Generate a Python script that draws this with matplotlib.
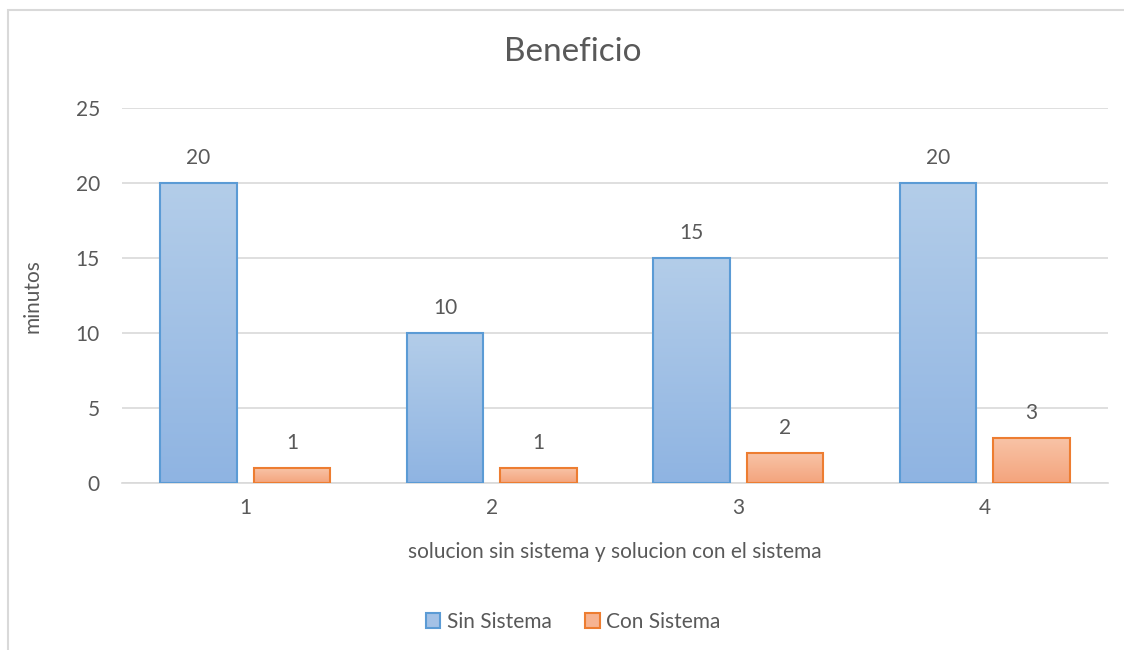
import numpy as np
import matplotlib
matplotlib.use("Agg")
import matplotlib.pyplot as plt
from matplotlib.colors import LinearSegmentedColormap
from matplotlib.patches import Rectangle, Patch

# data
categories = ["1", "2", "3", "4"]
sin_sistema = [20, 10, 15, 20]
con_sistema = [1, 1, 2, 3]
series_names = ["Sin Sistema", "Con Sistema"]

plt.rcParams['font.family'] = ['Lato', 'DejaVu Sans']
gray = '#595959'

fig = plt.figure(figsize=(11.24, 6.5), dpi=100)
ax = fig.add_axes([122 / 1124, 1 - 483 / 650, 986 / 1124, 375 / 650])

x = np.arange(1, len(categories) + 1)
w = 0.31
off = 0.19

styles = [
    (sin_sistema, -off, '#5b9bd5', ['#8fb4e2', '#b3cde9']),
    (con_sistema, off, '#ed7d31', ['#f4a47d', '#f8c3a6']),
]

for vals, dx, edge, grad in styles:
    cmap = LinearSegmentedColormap.from_list('g', grad)
    bars = ax.bar(x + dx, vals, w, color='none', edgecolor=edge, linewidth=1.5, zorder=3)
    for b, v in zip(bars, vals):
        img = ax.imshow(np.linspace(0, 1, 100).reshape(-1, 1), cmap=cmap, aspect='auto',
                        origin='lower', extent=[b.get_x(), b.get_x() + w, 0, v], zorder=2)
        img.set_clip_path(b)
        ax.text(b.get_x() + w / 2, v + 1.0, str(v), ha='center', va='bottom',
                fontsize=15, color=gray)

ax.set_xlim(0.5, 4.5)
ax.set_ylim(0, 25)
ax.set_yticks([0, 5, 10, 15, 20, 25])
ax.set_xticks(x)
ax.set_xticklabels(categories)
ax.tick_params(axis='both', length=0, labelsize=15, labelcolor=gray)
ax.tick_params(axis='y', pad=16)
ax.tick_params(axis='x', pad=11)
ax.grid(axis='y', color='#d9d9d9', linewidth=1.2, zorder=0)
ax.set_axisbelow(True)
for s in ['top', 'right', 'left']:
    ax.spines[s].set_visible(False)
ax.spines['bottom'].set_color('#d9d9d9')
ax.spines['bottom'].set_linewidth(1.2)

fig.text(573 / 1124, 1 - 52 / 650, 'Beneficio', ha='center', va='center', fontsize=24, color=gray)
fig.text(33 / 1124, 1 - 296 / 650, 'minutos', ha='center', va='center', rotation=90,
         fontsize=15, color=gray)
fig.text(615 / 1124, 1 - 552 / 650, 'solucion sin sistema y solucion con el sistema',
         ha='center', va='center', fontsize=15, color=gray)

handles = [Patch(facecolor='#a3c1e6', edgecolor='#5b9bd5', linewidth=1.5),
           Patch(facecolor='#f6b391', edgecolor='#ed7d31', linewidth=1.5)]
fig.legend(handles, series_names, loc='center', bbox_to_anchor=(573 / 1124, 1 - 622 / 650),
           ncol=2, frameon=False, fontsize=15, labelcolor=gray, handlelength=0.7,
           handleheight=0.7, handletextpad=0.3, columnspacing=1.6)

# chart border
fig.add_artist(Rectangle((8 / 1124, -0.1), 1.2, 1 - 10 / 650 + 0.1, transform=fig.transFigure,
                         facecolor='none', edgecolor='#d9d9d9', linewidth=1.5))

fig.savefig('out.png', dpi=100)
